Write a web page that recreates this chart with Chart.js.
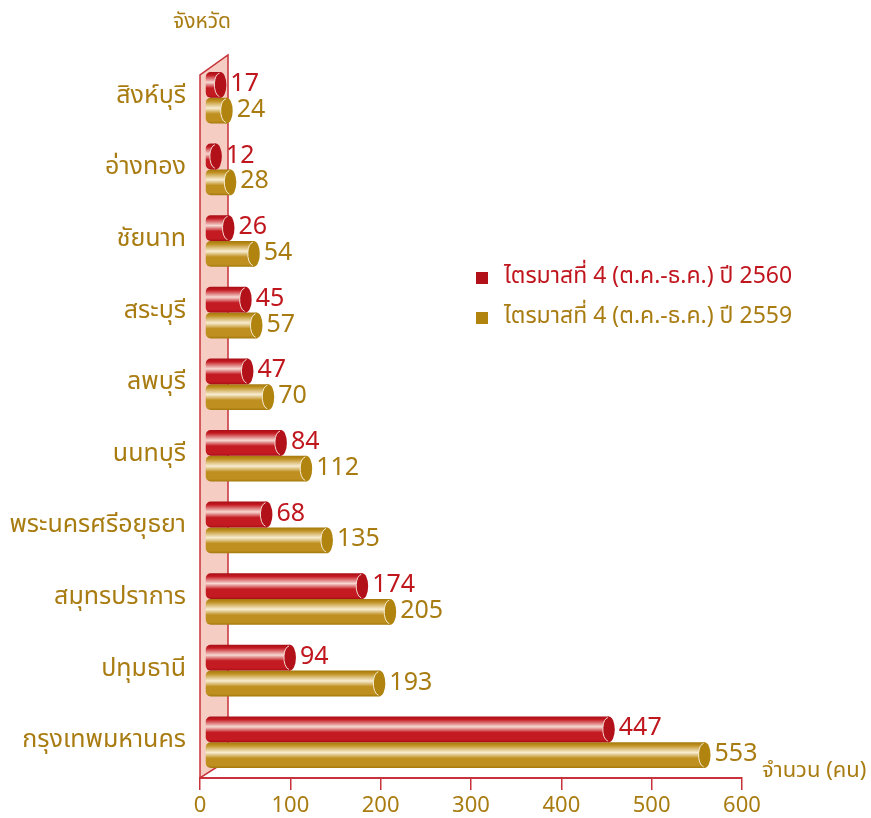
<!DOCTYPE html>
<html>
<head>
<meta charset="utf-8">
<script src="https://cdn.jsdelivr.net/npm/chart.js@4.4.0/dist/chart.umd.min.js"></script>
<style>
  html, body { margin: 0; padding: 0; background: #fff; }
  #wrap { width: 871px; height: 818px; position: relative; }
</style>
</head>
<body>
<div id="wrap"><canvas id="provinceChart"></canvas></div>
<script>
// provinces, top to bottom
const provinces = ['สิงห์บุรี', 'อ่างทอง', 'ชัยนาท', 'สระบุรี', 'ลพบุรี', 'นนทบุรี',
    'พระนครศรีอยุธยา', 'สมุทรปราการ', 'ปทุมธานี', 'กรุงเทพมหานคร'];
const q4y2560 = [17, 12, 26, 45, 47, 84, 68, 174, 94, 447];
const q4y2559 = [24, 28, 54, 57, 70, 112, 135, 205, 193, 553];
const xTicks = [0, 100, 200, 300, 400, 500, 600];

const FONT = "Tahoma, 'Noto Sans Thai', 'Noto Sans', 'DejaVu Sans', sans-serif";
const GOLD_TXT = '#a97c12';
const RED_TXT = '#c0161e';
const AXIS_RED = '#c8323a';

const palettes = [
    { dark: '#a80e16', mid: '#c41a22', light: '#f6d9d2', cap: '#b3111a', text: RED_TXT },
    { dark: '#a4780c', mid: '#bf9020', light: '#f8edd2', cap: '#b0840e', text: GOLD_TXT }
];

const CAT_PCT = 0.72;

function barGradient(context, di) {
    const chart = context.chart;
    const ys = chart.scales.y;
    if (!ys || context.dataIndex === undefined) return palettes[di].mid;
    const slot = ys.height / provinces.length;
    const pair = slot * CAT_PCT;
    const h = pair / 2;
    const top = ys.getPixelForValue(context.dataIndex) - pair / 2 + h * di;
    if (!isFinite(top) || !isFinite(h) || h <= 0) return palettes[di].mid;
    const p = palettes[di];
    const g = chart.ctx.createLinearGradient(0, top, 0, top + h);
    g.addColorStop(0, p.dark);
    g.addColorStop(0.12, p.mid);
    g.addColorStop(0.4, p.light);
    g.addColorStop(0.62, p.mid);
    g.addColorStop(0.9, p.mid);
    g.addColorStop(1, p.dark);
    return g;
}

// pink 3D back wall + floor edge
const wallPlugin = {
    id: 'wall',
    beforeDatasetsDraw(chart) {
        const { ctx, chartArea } = chart;
        const x0 = chartArea.left, x1 = chartArea.left + 28;
        ctx.save();
        ctx.beginPath();
        ctx.moveTo(x0, chartArea.bottom);
        ctx.lineTo(x0, 75);
        ctx.lineTo(x1, 55);
        ctx.lineTo(x1, chartArea.bottom - 18);
        ctx.closePath();
        ctx.fillStyle = '#f5cdc2';
        ctx.fill();
        ctx.lineWidth = 1.5;
        ctx.strokeStyle = AXIS_RED;
        ctx.stroke();
        ctx.restore();
        // shift bars to sit in front of the wall
        ctx.save();
        ctx.translate(5, 0);
    },
    afterDatasetsDraw(chart) {
        const ctx = chart.ctx;
        chart.data.datasets.forEach((ds, di) => {
            const meta = chart.getDatasetMeta(di);
            const p = palettes[di];
            meta.data.forEach((bar, i) => {
                const h = bar.height;
                ctx.beginPath();
                ctx.ellipse(bar.x, bar.y, 6, h / 2, 0, 0, Math.PI * 2);
                ctx.fillStyle = p.cap;
                ctx.fill();
                ctx.lineWidth = 1;
                ctx.strokeStyle = p.light;
                ctx.beginPath();
                ctx.ellipse(bar.x, bar.y, 6, h / 2 - 1, 0, Math.PI * 0.55, Math.PI * 1.45);
                ctx.stroke();
                ctx.fillStyle = p.text;
                ctx.font = '25px ' + FONT;
                ctx.textAlign = 'left';
                ctx.textBaseline = 'middle';
                ctx.fillText(ds.data[i], bar.x + 10, bar.y + 1);
            });
        });
        ctx.restore();
    },
    afterDraw(chart) {
        const { ctx } = chart;
        ctx.save();
        ctx.font = '21px ' + FONT;
        ctx.fillStyle = GOLD_TXT;
        ctx.textBaseline = 'middle';
        ctx.textAlign = 'center';
        ctx.fillText('จังหวัด', 202, 24);
        ctx.textAlign = 'left';
        ctx.font = '22px ' + FONT;
        ctx.fillText('จำนวน (คน)', 762, 773);
        // legend
        chart.data.datasets.forEach((ds, di) => {
            const y = 278 + di * 40;
            ctx.fillStyle = palettes[di].cap;
            ctx.fillRect(476, y - 6, 12, 12);
            ctx.fillStyle = palettes[di].text;
            ctx.font = '23px ' + FONT;
            ctx.fillText(ds.label, 504, y);
        });
        ctx.restore();
    }
};

const ctxBar = document.getElementById('provinceChart').getContext('2d');
const provinceChart = new Chart(ctxBar, {
    type: 'bar',
    data: {
        labels: provinces,
        datasets: [{
            label: 'ไตรมาสที่ 4 (ต.ค.-ธ.ค.) ปี 2560',
            data: q4y2560,
            backgroundColor: (c) => barGradient(c, 0),
            borderRadius: { topLeft: 5, bottomLeft: 5, topRight: 0, bottomRight: 0 },
            borderSkipped: false,
            categoryPercentage: CAT_PCT,
            barPercentage: 1.0
        }, {
            label: 'ไตรมาสที่ 4 (ต.ค.-ธ.ค.) ปี 2559',
            data: q4y2559,
            backgroundColor: (c) => barGradient(c, 1),
            borderRadius: { topLeft: 5, bottomLeft: 5, topRight: 0, bottomRight: 0 },
            borderSkipped: false,
            categoryPercentage: CAT_PCT,
            barPercentage: 1.0
        }]
    },
    options: {
        indexAxis: 'y',
        responsive: true,
        maintainAspectRatio: false,
        animation: false,
        layout: { padding: { top: 62, right: 129, bottom: 0, left: 0 } },
        scales: {
            x: {
                min: 0,
                max: 600,
                afterBuildTicks: (axis) => { axis.ticks = xTicks.map(v => ({ value: v })); },
                afterFit: (axis) => { axis.height = 40; },
                grid: { drawOnChartArea: false, drawTicks: true, tickLength: 12, color: AXIS_RED, lineWidth: 1.5 },
                border: { color: AXIS_RED, width: 2 },
                ticks: { color: GOLD_TXT, padding: 4, font: { family: FONT, size: 22 } }
            },
            y: {
                afterFit: (axis) => { axis.width = 200; },
                grid: { display: false },
                border: { display: false },
                ticks: { color: GOLD_TXT, padding: 6, font: { family: FONT, size: 25 } }
            }
        },
        plugins: {
            legend: { display: false },
            tooltip: { enabled: false }
        }
    },
    plugins: [wallPlugin]
});
</script>
</body>
</html>
